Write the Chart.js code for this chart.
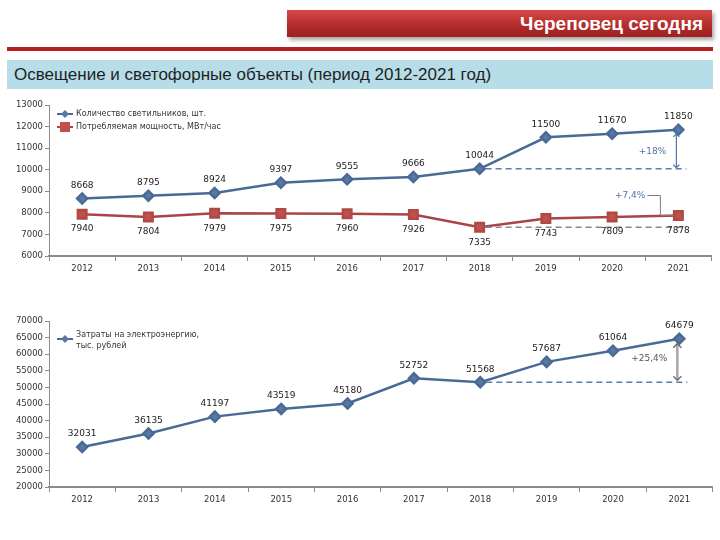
<!DOCTYPE html>
<html>
<head>
<meta charset="utf-8">
<script src="https://cdn.jsdelivr.net/npm/chart.js@4"></script>
<style>
  body { margin:0; width:720px; height:540px; background:#fff; position:relative; overflow:hidden;
         font-family:"Liberation Sans",Arial,sans-serif; }
  #banner { position:absolute; left:287px; top:10px; width:425px; height:27px;
            background:linear-gradient(#d54a48,#b32a2a 60%,#9e2020); box-shadow:2px 3px 4px rgba(0,0,0,.35);
            color:#fff; font-weight:bold; font-size:19px; text-align:right; line-height:27px;
            padding-right:9px; box-sizing:border-box; }
  #redline { position:absolute; left:7px; top:47px; width:706px; height:4px; background:#b71f1f; }
  #subtitle { position:absolute; left:7px; top:60px; width:706px; height:29px; background:#b7dde8;
              color:#1f1f1f; font-size:17px; line-height:29px; padding-left:7px; box-sizing:border-box; }
  canvas { position:absolute; left:0; }
  #c1 { top:95px; }
  #c2 { top:310px; }
</style>
</head>
<body>
<div id="banner">Череповец сегодня</div>
<div id="redline"></div>
<div id="subtitle">Освещение и светофорные объекты (период 2012-2021 год)</div>
<canvas id="c1" width="720" height="190"></canvas>
<canvas id="c2" width="720" height="210"></canvas>
<script>
const years = ["2012","2013","2014","2015","2016","2017","2018","2019","2020","2021"];
const lamps = [8668, 8795, 8924, 9397, 9555, 9666, 10044, 11500, 11670, 11850];
const power = [7940, 7804, 7979, 7975, 7960, 7926, 7335, 7743, 7809, 7878];
const costs = [32031, 36135, 41197, 43519, 45180, 52752, 51568, 57687, 61064, 64679];

const lampsName = "Количество светильников, шт.";
const powerName = "Потребляемая мощность, МВт/час";
const costsName = ["Затраты на электроэнергию,", "тыс. рублей"];

const blue = "#4a6a96";
const redLine = "#a84545";
const redMark = "#c0504d";
const axisColor = "#8c8c8c";
const tickFont = { family: "DejaVu Sans", size: 8.5 };

// подписи значений
const valueLabels = {
  id: "valueLabels",
  afterDatasetsDraw(chart) {
    const ctx = chart.ctx;
    ctx.save();
    ctx.font = "9px 'DejaVu Sans'";
    ctx.fillStyle = "#222";
    ctx.textAlign = "center";
    ctx.textBaseline = "middle";
    chart.data.datasets.forEach((ds, i) => {
      const meta = chart.getDatasetMeta(i);
      meta.data.forEach((pt, j) => {
        const dy = ds.labelBelow ? 15 : -13;
        ctx.fillText(String(ds.data[j]), pt.x, pt.y + dy);
      });
    });
    ctx.restore();
  }
};

function arrowHead(ctx, x, y, dir, size) {
  ctx.beginPath();
  ctx.moveTo(x - size, y - dir * size);
  ctx.lineTo(x, y);
  ctx.lineTo(x + size, y - dir * size);
  ctx.stroke();
}

// пунктир от уровня 2018 года до 2021
function growthMark(chart, dsIndex, dashColor) {
  const ctx = chart.ctx;
  const meta = chart.getDatasetMeta(dsIndex);
  const y = chart.scales.y;
  const data = chart.data.datasets[dsIndex].data;
  const from = meta.data[6];
  const to = meta.data[9];
  const baseY = y.getPixelForValue(data[6]);
  ctx.save();
  ctx.strokeStyle = dashColor;
  ctx.lineWidth = 1.5;
  ctx.setLineDash([6, 4]);
  ctx.beginPath();
  ctx.moveTo(from.x + 6, baseY);
  ctx.lineTo(to.x + 8, baseY);
  ctx.stroke();
  ctx.restore();
  return { to, baseY };
}

const annotations1 = {
  id: "ann1",
  afterDatasetsDraw(chart) {
    const ctx = chart.ctx;
    const a = growthMark(chart, 0, "#5b7fa8");
    const topY = a.to.y + 4;
    ctx.save();
    ctx.strokeStyle = "#4f76a8";
    ctx.lineWidth = 1.2;
    ctx.beginPath();
    ctx.moveTo(a.to.x - 2, topY);
    ctx.lineTo(a.to.x - 2, a.baseY - 1);
    ctx.stroke();
    arrowHead(ctx, a.to.x - 2, topY, -1, 3);
    arrowHead(ctx, a.to.x - 2, a.baseY - 1, 1, 3);
    ctx.fillStyle = "#4f76a8";
    ctx.font = "9px 'DejaVu Sans'";
    ctx.textAlign = "right";
    ctx.textBaseline = "middle";
    ctx.fillText("+18%", a.to.x - 12, (topY + a.baseY) / 2);
    ctx.restore();

    const b = growthMark(chart, 1, "#7d8a9c");
    ctx.save();
    ctx.strokeStyle = "#7a7a7a";
    ctx.lineWidth = 1;
    const ty = b.to.y - 20;
    ctx.fillStyle = "#4f76a8";
    ctx.font = "9px 'DejaVu Sans'";
    ctx.textAlign = "right";
    ctx.textBaseline = "middle";
    ctx.fillText("+7,4%", b.to.x - 33, ty);
    ctx.beginPath();
    ctx.moveTo(b.to.x - 31, ty);
    ctx.lineTo(b.to.x - 18, ty);
    ctx.lineTo(b.to.x - 18, b.to.y);
    ctx.lineTo(b.to.x - 4, b.to.y);
    ctx.stroke();
    ctx.restore();
  }
};

const annotations2 = {
  id: "ann2",
  afterDatasetsDraw(chart) {
    const ctx = chart.ctx;
    const a = growthMark(chart, 0, "#5b7fa8");
    const topY = a.to.y + 5;
    ctx.save();
    ctx.strokeStyle = "#a6a6a6";
    ctx.lineWidth = 2.5;
    ctx.beginPath();
    ctx.moveTo(a.to.x - 2, topY);
    ctx.lineTo(a.to.x - 2, a.baseY - 2);
    ctx.stroke();
    ctx.strokeStyle = "#6f6f6f";
    ctx.lineWidth = 1.5;
    arrowHead(ctx, a.to.x - 2, a.baseY - 2, 1, 4);
    arrowHead(ctx, a.to.x - 2, topY, -1, 4);
    ctx.fillStyle = "#555";
    ctx.font = "9px 'DejaVu Sans'";
    ctx.textAlign = "right";
    ctx.textBaseline = "middle";
    ctx.fillText("+25,4%", a.to.x - 12, (topY + a.baseY) / 2 - 4);
    ctx.restore();
  }
};

// легенда внутри области построения
function innerLegend(items) {
  return {
    id: "innerLegend",
    afterDraw(chart) {
      const ctx = chart.ctx;
      const left = chart.chartArea.left + 8;
      let y = chart.chartArea.top + items.top;
      ctx.save();
      ctx.font = "8px 'DejaVu Sans'";
      ctx.textBaseline = "middle";
      items.list.forEach(it => {
        ctx.strokeStyle = it.line;
        ctx.lineWidth = 2;
        ctx.beginPath();
        ctx.moveTo(left, y);
        ctx.lineTo(left + 16, y);
        ctx.stroke();
        ctx.fillStyle = it.mark;
        ctx.beginPath();
        if (it.shape === "rect") {
          ctx.rect(left + 3, y - 5, 10, 10);
        } else {
          ctx.moveTo(left + 8, y - 4);
          ctx.lineTo(left + 12, y);
          ctx.lineTo(left + 8, y + 4);
          ctx.lineTo(left + 4, y);
          ctx.closePath();
        }
        ctx.fill();
        ctx.fillStyle = "#333";
        const lines = Array.isArray(it.text) ? it.text : [it.text];
        lines.forEach((t, k) => ctx.fillText(t, left + 19, y + k * 11 - (lines.length > 1 ? 4 : 0)));
        y += items.step;
      });
      ctx.restore();
    }
  };
}

function axes(min, max, step, yWidth, xHeight) {
  return {
    x: {
      offset: true,
      grid: { drawOnChartArea: false, offset: true, tickLength: 5, color: axisColor, tickColor: axisColor },
      border: { color: axisColor, width: 2 },
      ticks: { color: "#333", font: tickFont, padding: 3, maxRotation: 0 },
      afterFit(s) { s.height = xHeight; }
    },
    y: {
      min: min, max: max,
      grid: { drawOnChartArea: false, tickLength: 4, color: axisColor, tickColor: axisColor },
      border: { color: axisColor, width: 1 },
      ticks: { stepSize: step, color: "#333", font: tickFont, padding: 2, callback: v => String(v) },
      afterFit(s) { s.width = yWidth; }
    }
  };
}

new Chart(document.getElementById("c1"), {
  type: "line",
  data: {
    labels: years,
    datasets: [
      { label: lampsName, data: lamps, borderColor: blue, backgroundColor: blue, borderWidth: 2.5,
        pointStyle: "rectRot", pointRadius: 5, pointBackgroundColor: "#5878a6", tension: 0 },
      { label: powerName, data: power, borderColor: redLine, backgroundColor: redMark, borderWidth: 2.5,
        pointStyle: "rect", pointRadius: 6, pointBackgroundColor: redMark, pointBorderColor: "#b04844",
        tension: 0, labelBelow: true }
    ]
  },
  options: {
    responsive: false, animation: false,
    layout: { padding: { top: 10, right: 7, left: 0, bottom: 0 } },
    plugins: { legend: { display: false }, tooltip: { enabled: false } },
    scales: axes(6000, 13000, 1000, 49, 29)
  },
  plugins: [annotations1, valueLabels, innerLegend({ top: 9, step: 13, list: [
    { text: lampsName, line: blue, mark: "#5878a6", shape: "diamond" },
    { text: powerName, line: redLine, mark: redMark, shape: "rect" }
  ] })]
});

new Chart(document.getElementById("c2"), {
  type: "line",
  data: {
    labels: years,
    datasets: [
      { label: costsName.join(" "), data: costs, borderColor: blue, backgroundColor: blue, borderWidth: 2.5,
        pointStyle: "rectRot", pointRadius: 5, pointBackgroundColor: "#5878a6", tension: 0 }
    ]
  },
  options: {
    responsive: false, animation: false,
    layout: { padding: { top: 11, right: 7, left: 0, bottom: 0 } },
    plugins: { legend: { display: false }, tooltip: { enabled: false } },
    scales: axes(20000, 70000, 5000, 49, 33)
  },
  plugins: [annotations2, valueLabels, innerLegend({ top: 18, step: 20, list: [
    { text: costsName, line: blue, mark: "#5878a6", shape: "diamond" }
  ] })]
});
</script>
</body>
</html>
